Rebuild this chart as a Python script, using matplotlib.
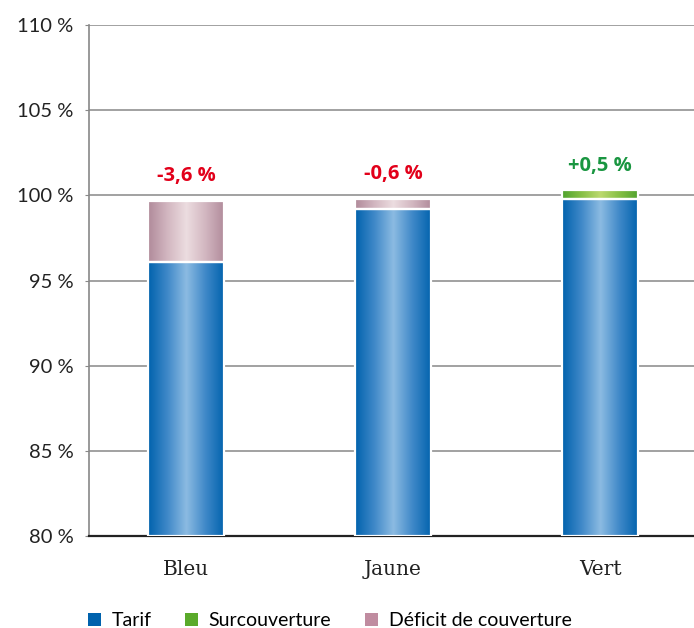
import numpy as np
import matplotlib.pyplot as plt
from matplotlib.colors import LinearSegmentedColormap
from matplotlib.patches import Patch

# Data
categories = ['Bleu', 'Jaune', 'Vert']
tarif = [96.1, 99.2, 99.8]
surcouverture = [0.0, 0.0, 0.5]
deficit = [3.6, 0.6, 0.0]
labels = ['-3,6 %', '-0,6 %', '+0,5 %']
label_colors = ['#e2001a', '#e2001a', '#1a9641']
yticks = [80, 85, 90, 95, 100, 105, 110]

# gradients: dark at edges, light near center
cm_blue = LinearSegmentedColormap.from_list('b', ['#0062ad', '#3f88c8', '#8cbbe2', '#3f88c8', '#0062ad'])
cm_pink = LinearSegmentedColormap.from_list('p', ['#b08a9a', '#d2b6c0', '#ecdde0', '#d2b6c0', '#b08a9a'])
cm_green = LinearSegmentedColormap.from_list('g', ['#4fa22e', '#86bf45', '#bcd96e', '#86bf45', '#4fa22e'])
grad = np.linspace(0, 1, 256).reshape(1, -1)

fig = plt.figure(figsize=(6.94, 6.28), dpi=100)
ax = fig.add_axes([0.128, 0.1465, 0.872, 0.8135])

width = 0.37
x = np.arange(len(categories))

def grad_bar(xc, y0, y1, cmap):
    # draw a bar with horizontal gradient, white border
    ax.imshow(grad, cmap=cmap, extent=[xc - width/2, xc + width/2, y0, y1],
              aspect='auto', zorder=3, interpolation='bicubic')
    ax.add_patch(plt.Rectangle((xc - width/2, y0), width, y1 - y0, fill=False,
                               edgecolor='white', linewidth=1.6, zorder=4))

for i in range(len(categories)):
    grad_bar(x[i], 80, tarif[i], cm_blue)
    top = tarif[i]
    if deficit[i] > 0:
        grad_bar(x[i], tarif[i], tarif[i] + deficit[i], cm_pink)
        top = tarif[i] + deficit[i]
    if surcouverture[i] > 0:
        grad_bar(x[i], tarif[i], tarif[i] + surcouverture[i], cm_green)
        top = tarif[i] + surcouverture[i]
    ax.text(x[i], top + 1.45, labels[i], ha='center', va='center', fontsize=14.5,
            fontweight='bold', color=label_colors[i], family='Open Sans')

ax.set_xlim(-0.469, 2.454)
ax.set_ylim(80, 110)
ax.set_yticks(yticks)
ax.set_yticklabels([f'{v} %' for v in yticks], fontsize=14.5, color='#222222', family='Lato')
ax.set_xticks(x)
ax.set_xticklabels(categories, fontsize=14.5, family='DejaVu Serif', color='#222222')
ax.tick_params(axis='x', length=0, pad=17)
ax.tick_params(axis='y', length=3, color='#888888', pad=8)
ax.yaxis.grid(True, color='#888888', linewidth=1.1, zorder=0)
ax.set_axisbelow(True)
for s in ['top', 'right']:
    ax.spines[s].set_visible(False)
ax.spines['left'].set_color('#888888')
ax.spines['left'].set_linewidth(1.2)
ax.spines['bottom'].set_color('#222222')
ax.spines['bottom'].set_linewidth(1.6)

handles = [Patch(facecolor='#0062ad', label='Tarif'),
           Patch(facecolor='#5aaa2a', label='Surcouverture'),
           Patch(facecolor='#c08ca0', label='Déficit de couverture')]
fig.legend(handles=handles, loc='center left', bbox_to_anchor=(0.127, 0.012), ncol=3,
           frameon=False, handlelength=0.65, handleheight=0.65, borderpad=0, borderaxespad=0,
           handletextpad=0.55, columnspacing=1.75, prop={'family': 'Lato', 'size': 14})

fig.savefig('out.png', dpi=100)
